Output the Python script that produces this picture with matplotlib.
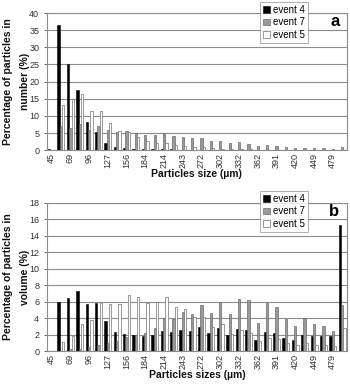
import numpy as np
import matplotlib
matplotlib.use("Agg")
import matplotlib.pyplot as plt

plt.rcParams['font.family'] = ['Liberation Sans', 'DejaVu Sans']

# Particle size classes (um)
sizes = [45, 57, 69, 83, 96, 112, 127, 142, 156, 170, 184, 199, 214, 228, 243, 257,
         272, 287, 302, 317, 332, 347, 362, 376, 391, 405, 420, 435, 449, 464, 479, 494]
tick_labels = ['45', '69', '96', '127', '156', '184', '214', '243', '272', '302',
               '332', '362', '391', '420', '449', '479']

# (a) percentage in number
num_ev4 = [0.3, 36.5, 25.0, 17.5, 8.1, 5.3, 2.2, 1.0, 0.6, 0.4, 0.3, 0.3, 0.2, 0.2, 0.1, 0.1,
           0.1, 0.1, 0.1, 0.1, 0.1, 0.1, 0.0, 0.0, 0.0, 0.0, 0.0, 0.0, 0.0, 0.0, 0.0, 0.1]
num_ev7 = [0.0, 7.0, 6.5, 7.5, 6.0, 7.0, 6.0, 5.3, 5.5, 5.1, 4.4, 4.5, 5.0, 4.2, 3.8, 3.5,
           3.5, 2.8, 2.8, 2.2, 2.4, 1.8, 1.2, 1.4, 1.3, 0.8, 0.7, 0.6, 0.5, 0.5, 0.4, 0.8]
num_ev5 = [0.0, 13.2, 15.0, 16.5, 11.4, 11.5, 7.8, 5.5, 5.3, 3.8, 2.8, 2.1, 2.0, 1.5, 1.2, 1.0,
           0.8, 0.5, 0.4, 0.3, 0.3, 0.2, 0.1, 0.1, 0.1, 0.1, 0.0, 0.0, 0.0, 0.0, 0.0, 0.1]

# (b) percentage in volume
vol_ev4 = [0.0, 6.0, 6.4, 7.35, 5.7, 5.85, 3.6, 2.3, 2.1, 1.9, 1.8, 2.0, 2.5, 2.3, 2.6, 2.4,
           2.9, 2.2, 2.8, 2.0, 2.7, 2.6, 1.4, 2.3, 2.2, 1.6, 1.3, 2.0, 1.8, 1.8, 1.8, 15.3]
vol_ev7 = [0.0, 0.0, 0.2, 0.3, 0.5, 0.8, 1.0, 1.2, 1.7, 2.0, 2.2, 2.8, 4.0, 3.9, 4.7, 4.5,
           5.6, 4.6, 6.0, 4.5, 6.3, 6.2, 3.4, 5.8, 5.3, 3.9, 3.0, 4.0, 3.3, 3.0, 2.4, 5.6]
vol_ev5 = [0.0, 1.1, 1.8, 3.3, 3.8, 5.9, 5.75, 5.75, 6.8, 6.6, 5.8, 6.0, 6.6, 5.3, 5.1, 4.1,
           4.1, 2.9, 3.3, 2.1, 2.6, 2.2, 1.2, 1.6, 1.5, 1.0, 0.7, 1.0, 0.8, 0.7, 0.6, 2.8]

x = np.arange(len(sizes))
w = 0.25
grid_c = '#8c8c8c'
txt_c = '#333333'


def panel(ax, d4, d7, d5, ymax, ystep, ylabel, xlabel, letter):
    ax.bar(x - w, d4, w, color='black', edgecolor='black', linewidth=0.4, label='event 4', zorder=3)
    ax.bar(x, d7, w, color='#9a9a9a', edgecolor='#555555', linewidth=0.4, label='event 7', zorder=3)
    ax.bar(x + w, d5, w, color='white', edgecolor='#707070', linewidth=0.5, label='event 5', zorder=3)
    ax.set_xlim(-0.5, len(sizes) - 0.5)
    ax.set_ylim(0, ymax)
    ax.set_yticks(np.arange(0, ymax + 0.1, ystep))
    ax.set_xticks(x[::2])
    ax.set_xticklabels(tick_labels, rotation=90)
    ax.tick_params(axis='both', labelsize=6.5, colors=txt_c, length=2, width=0.5)
    ax.tick_params(axis='x', length=0, pad=2)
    ax.yaxis.grid(True, color=grid_c, linewidth=0.8, zorder=0)
    for s in ax.spines.values():
        s.set_color(grid_c)
        s.set_linewidth(0.8)
    ax.set_ylabel(ylabel, fontsize=7.5, fontweight='bold', color='#111111', linespacing=1.9)
    ax.yaxis.set_label_coords(-0.055, 0.5)
    ax.set_xlabel(xlabel, fontsize=7.5, fontweight='bold', color='#111111', labelpad=1)
    leg = ax.legend(loc='upper right', bbox_to_anchor=(0.87, 1.08), fontsize=7,
                    frameon=True, fancybox=False, edgecolor='#888888',
                    handlelength=0.7, handleheight=0.7, handletextpad=0.3,
                    borderpad=0.3, labelspacing=0.25, borderaxespad=0)
    leg.get_frame().set_linewidth(0.6)
    ax.text(0.975, 0.99, letter, transform=ax.transAxes, ha='right', va='top',
            fontsize=12, fontweight='bold')


fig = plt.figure(figsize=(3.5, 3.85), dpi=100)
ax1 = fig.add_axes([0.134, 0.610, 0.857, 0.356])
ax2 = fig.add_axes([0.134, 0.088, 0.857, 0.385])

panel(ax1, num_ev4, num_ev7, num_ev5, 40, 5,
      'Percentage of particles in\nnumber (%)', 'Particles size (µm)', 'a')
panel(ax2, vol_ev4, vol_ev7, vol_ev5, 18, 2,
      'Percentage of particles in\nvolume (%)', 'Particles sizes (µm)', 'b')

fig.savefig('out.png', dpi=100)
